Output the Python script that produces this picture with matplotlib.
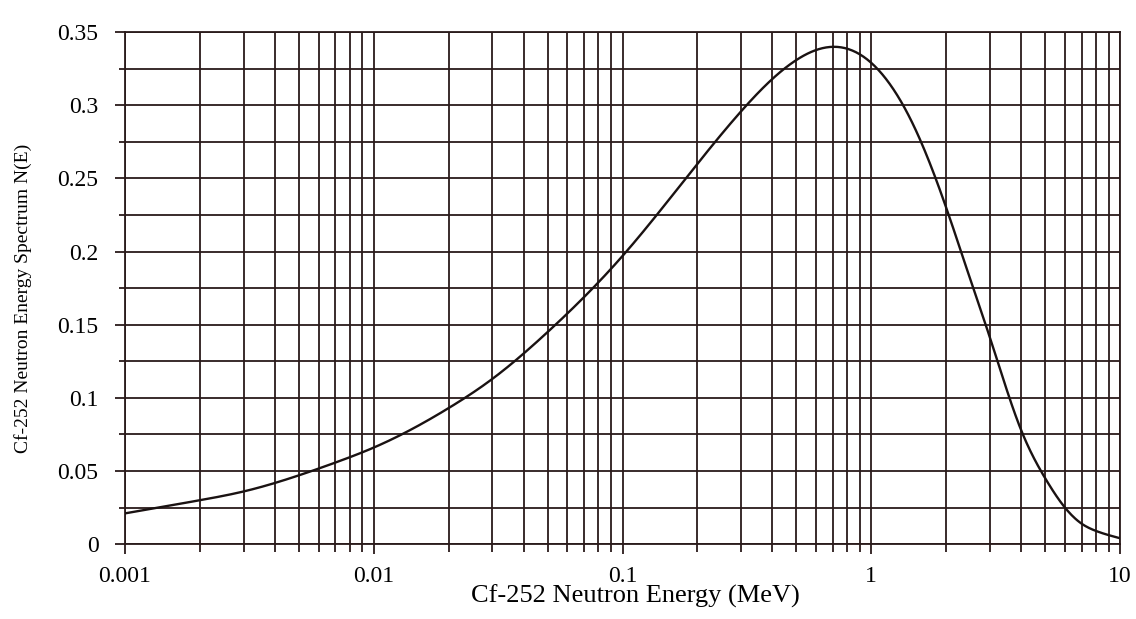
import numpy as np
import matplotlib.pyplot as plt
from matplotlib.ticker import LogLocator, MultipleLocator, FixedLocator, NullFormatter

# Cf-252 neutron spectrum
energy = [0.001, 0.002, 0.003, 0.005, 0.007, 0.01, 0.015, 0.02, 0.03, 0.05,
          0.1, 0.2, 0.3, 0.4, 0.5, 0.7, 1.0, 1.5, 2.0, 2.5,
          3.0, 4.0, 5.0, 6.0, 7.0, 8.0, 10.0]
spectrum = [0.021, 0.030, 0.036, 0.047, 0.0557, 0.066, 0.0807, 0.093, 0.113, 0.145,
            0.197, 0.260, 0.296, 0.318, 0.331, 0.340, 0.329, 0.284, 0.230, 0.181,
            0.141, 0.078, 0.045, 0.025, 0.014, 0.009, 0.004]

x_ticks = [0.001, 0.01, 0.1, 1, 10]
x_labels = ['0.001', '0.01', '0.1', '1', '10']
y_ticks = [0, 0.05, 0.1, 0.15, 0.2, 0.25, 0.3, 0.35]
y_labels = ['0', '0.05', '0.1', '0.15', '0.2', '0.25', '0.3', '0.35']


def natural_spline(x, y, xn):
    # plain natural cubic spline, no scipy needed
    x = np.asarray(x, float)
    y = np.asarray(y, float)
    n = len(x)
    h = np.diff(x)
    A = np.zeros((n, n))
    r = np.zeros(n)
    A[0, 0] = A[-1, -1] = 1
    for i in range(1, n - 1):
        A[i, i - 1] = h[i - 1]
        A[i, i] = 2 * (h[i - 1] + h[i])
        A[i, i + 1] = h[i]
        r[i] = 3 * ((y[i + 1] - y[i]) / h[i] - (y[i] - y[i - 1]) / h[i - 1])
    c = np.linalg.solve(A, r)
    b = (y[1:] - y[:-1]) / h - h * (2 * c[:-1] + c[1:]) / 3
    d = (c[1:] - c[:-1]) / (3 * h)
    j = np.clip(np.searchsorted(x, xn) - 1, 0, n - 2)
    t = xn - x[j]
    return y[j] + b[j] * t + c[j] * t ** 2 + d[j] * t ** 3


plt.rcParams['font.family'] = ['Liberation Serif', 'DejaVu Serif']

fig = plt.figure(figsize=(11.36, 6.19), dpi=100)
ax = fig.add_axes([0.110, 0.121, 0.876, 0.827])

xs = np.log10(energy)
xf = np.linspace(xs[0], xs[-1], 800)
yf = natural_spline(xs, spectrum, xf)
ax.plot(10 ** xf, yf, color='#1a1212', lw=1.7, zorder=3)

ax.set_xscale('log')
ax.set_xlim(0.001, 10)
ax.set_ylim(0, 0.35)

ax.xaxis.set_major_locator(FixedLocator(x_ticks))
ax.set_xticklabels(x_labels)
ax.xaxis.set_minor_locator(LogLocator(base=10, subs=np.arange(2, 10)))
ax.xaxis.set_minor_formatter(NullFormatter())
ax.yaxis.set_major_locator(FixedLocator(y_ticks))
ax.set_yticklabels(y_labels)
ax.yaxis.set_minor_locator(MultipleLocator(0.025))

ax.grid(True, which='both', color='#2a1a1a', lw=1.3)
for s in ax.spines.values():
    s.set_color('#2a1a1a')
    s.set_linewidth(1.3)

ax.tick_params(which='both', direction='out', color='#2a1a1a', width=1.3)
ax.tick_params(which='major', length=7, labelsize=17)
ax.tick_params(axis='x', which='major', pad=9)
ax.tick_params(axis='x', which='minor', length=6)
ax.tick_params(axis='y', which='minor', length=4)
ax.tick_params(axis='y', which='major', pad=12)

ax.set_xlabel('Cf-252 Neutron Energy (MeV)', fontsize=19)
ax.xaxis.set_label_coords(0.513, -0.08)
ax.set_ylabel('Cf-252 Neutron Energy Spectrum N(E)', fontsize=14)
ax.yaxis.set_label_coords(-0.093, 0.48)

fig.savefig('out.png', dpi=100)
